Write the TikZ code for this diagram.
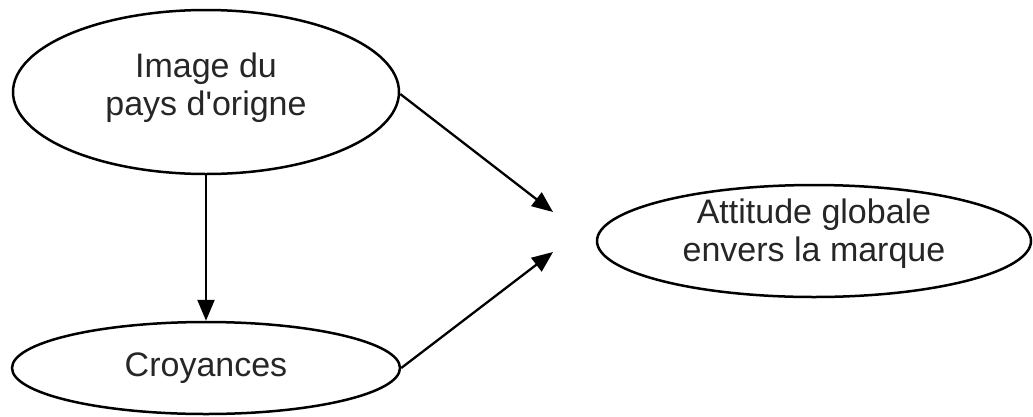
\documentclass[tikz,border=0pt]{standalone}
\usepackage{fontspec}
\newfontfamily\arialfont{Liberation Sans}
\usetikzlibrary{shapes.geometric,arrows.meta}
\newcommand{\liftlines}[2]{\raisebox{#1}[0pt][0pt]{\begin{tabular}{@{}c@{}}#2\end{tabular}}}
\begin{document}
\begin{tikzpicture}[x=1pt,y=-1pt,
  oval/.style={draw=black,line width=2.5pt,ellipse,inner sep=0pt,align=center,
    font=\arialfont\fontsize{34}{38}\selectfont,text=black!85},
  link/.style={line width=2.3pt,-{Triangle[length=21pt,width=17pt]}}]
\useasboundingbox (0,0) rectangle (1033,416);
\node[oval,minimum width=386pt,minimum height=164pt] (img) at (206,92) {\liftlines{-3pt}{Image du\\pays d'origne}};
\node[oval,minimum width=388pt,minimum height=92pt] (cro) at (206,368) {Croyances};
\node[oval,minimum width=434pt,minimum height=112pt] (att) at (814,241) {\liftlines{0pt}{Attitude globale\\envers la marque}};
\coordinate (t1) at (553,212);
\coordinate (t2) at (553,252);
\draw[link] (img.east) ++(0,2) -- (t1);
\draw[link] (cro.east) -- (t2);
\draw[link] (img.south) -- (cro.north);
\end{tikzpicture}
\end{document}
